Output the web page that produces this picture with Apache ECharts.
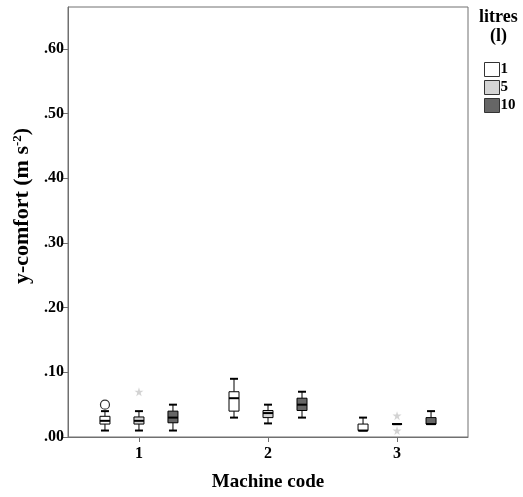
<!DOCTYPE html>
<html>
<head>
<meta charset="utf-8">
<script src="https://cdn.jsdelivr.net/npm/echarts@6/dist/echarts.min.js"></script>
<style>html,body{margin:0;padding:0;background:#fff}#c{width:523px;height:497px}</style>
</head>
<body>
<div id="c"></div>
<script>
// Machine codes (x categories)
var machines = [1, 2, 3];
// Box data per litre group: [machine, min, Q1, median, Q3, max]
var box1 = [[1, 0.01, 0.02, 0.025, 0.032, 0.04], [2, 0.03, 0.04, 0.06, 0.07, 0.09], [3, 0.01, 0.01, 0.01, 0.02, 0.03]];
var box5 = [[1, 0.01, 0.02, 0.025, 0.031, 0.04], [2, 0.021, 0.03, 0.037, 0.041, 0.05], [3, 0.02, 0.02, 0.02, 0.02, 0.02]];
var box10 = [[1, 0.01, 0.022, 0.03, 0.04, 0.05], [2, 0.03, 0.041, 0.05, 0.06, 0.07], [3, 0.02, 0.02, 0.02, 0.03, 0.04]];
// Outliers: [machine, value]
var out1Circle = [[1, 0.05]];
var out5Star = [[1, 0.07], [3, 0.033], [3, 0.01]];
// Tick values
var yTicks = [0, 0.1, 0.2, 0.3, 0.4, 0.5, 0.6];
var groupNames = ['1', '5', '10'];

var fills = ['#ffffff', '#d4d4d4', '#666666'];
var offsets = [-34, 0, 34];
var FONT = 'Liberation Serif';
var STAR = 'path://M50,0 L61,35 L98,35 L68,57 L79,91 L50,70 L21,91 L32,57 L2,35 L39,35 Z';

function boxRenderer(gi) {
  return function (params, api) {
    var x = api.coord([api.value(0), 0])[0] + offsets[gi];
    var yMin = api.coord([0, api.value(1)])[1];
    var yQ1 = api.coord([0, api.value(2)])[1];
    var yMed = api.coord([0, api.value(3)])[1];
    var yQ3 = api.coord([0, api.value(4)])[1];
    var yMax = api.coord([0, api.value(5)])[1];
    var hw = 5, cw = 4;
    var ls = {stroke: '#000', lineWidth: 1};
    var children = [
      {type: 'line', shape: {x1: x, y1: yMax, x2: x, y2: yQ3}, style: ls},
      {type: 'line', shape: {x1: x, y1: yQ1, x2: x, y2: yMin}, style: ls},
      {type: 'line', shape: {x1: x - cw, y1: yMax, x2: x + cw, y2: yMax}, style: {stroke: '#000', lineWidth: 2}},
      {type: 'line', shape: {x1: x - cw, y1: yMin, x2: x + cw, y2: yMin}, style: {stroke: '#000', lineWidth: 2}},
      {type: 'rect', shape: {x: x - hw, y: yQ3, width: hw * 2, height: Math.max(yQ1 - yQ3, 0)}, style: {fill: fills[gi], stroke: '#000', lineWidth: 1}},
      {type: 'line', shape: {x1: x - hw, y1: yMed, x2: x + hw, y2: yMed}, style: {stroke: '#000', lineWidth: 2}}
    ];
    return {type: 'group', children: children};
  };
}

var chart = echarts.init(document.getElementById('c'), null, {renderer: 'canvas'});
chart.setOption({
  animation: false,
  backgroundColor: '#fff',
  textStyle: {fontFamily: FONT},
  grid: {left: 68, top: 7, width: 400, height: 430, show: true, borderColor: '#707070', borderWidth: 1, backgroundColor: 'transparent'},
  graphic: [
    {type: 'text', left: 479, top: 8, style: {text: 'litres', font: 'bold 18px "Liberation Serif"', fill: '#000'}},
    {type: 'text', left: 490, top: 27, style: {text: '(l)', font: 'bold 18px "Liberation Serif"', fill: '#000'}},
    {type: 'text', x: 22, y: 206, rotation: Math.PI / 2,
      style: {text: 'y-comfort (m s{sup|-2})', align: 'center', verticalAlign: 'middle',
        fontFamily: FONT, fontWeight: 'bold', fontSize: 22, fill: '#000',
        rich: {sup: {fontFamily: FONT, fontWeight: 'bold', fontSize: 13, verticalAlign: 'top', fill: '#000'}}}}
  ],
  legend: {
    orient: 'vertical', left: 479, top: 57, itemWidth: 15, itemHeight: 14, itemGap: 3,
    textStyle: {fontFamily: FONT, fontWeight: 'bold', fontSize: 15, lineHeight: 14, color: '#000', padding: [0, 0, 0, -4]},
    data: [
      {name: groupNames[0], icon: 'rect', itemStyle: {color: fills[0], borderColor: '#333', borderWidth: 1}},
      {name: groupNames[1], icon: 'rect', itemStyle: {color: fills[1], borderColor: '#333', borderWidth: 1}},
      {name: groupNames[2], icon: 'rect', itemStyle: {color: fills[2], borderColor: '#333', borderWidth: 1}}
    ]
  },
  xAxis: {
    type: 'value', min: 0.45, max: 3.55,
    name: 'Machine code', nameLocation: 'middle', nameGap: 36,
    nameTextStyle: {fontFamily: FONT, fontWeight: 'bold', fontSize: 19, color: '#000'},
    axisLine: {show: true, lineStyle: {color: '#707070', width: 1}},
    axisTick: {show: true, length: 5, customValues: machines, lineStyle: {color: '#707070'}},
    axisLabel: {customValues: machines, fontFamily: FONT, fontWeight: 'bold', fontSize: 16, color: '#000', margin: 9},
    splitLine: {show: false}
  },
  yAxis: {
    type: 'value', min: 0, max: 0.665,
    axisLine: {show: true, lineStyle: {color: '#707070', width: 1}},
    axisTick: {show: true, length: 5, customValues: yTicks, lineStyle: {color: '#707070'}},
    axisLabel: {customValues: yTicks, fontFamily: FONT, fontWeight: 'bold', fontSize: 16, color: '#000', margin: 4,
      formatter: function (v) { return v.toFixed(2).replace(/^0/, ''); }},
    splitLine: {show: false}
  },
  series: [
    {name: groupNames[0], type: 'custom', renderItem: boxRenderer(0), data: box1, itemStyle: {color: fills[0]}, encode: {x: 0, y: [1, 5]}},
    {name: groupNames[1], type: 'custom', renderItem: boxRenderer(1), data: box5, itemStyle: {color: fills[1]}, encode: {x: 0, y: [1, 5]}},
    {name: groupNames[2], type: 'custom', renderItem: boxRenderer(2), data: box10, itemStyle: {color: fills[2]}, encode: {x: 0, y: [1, 5]}},
    {name: 'out1', type: 'scatter', data: out1Circle, symbol: 'circle', symbolSize: 9, symbolOffset: [offsets[0], 0],
      itemStyle: {color: '#fff', borderColor: '#000', borderWidth: 1.2}},
    {name: 'out5', type: 'scatter', data: out5Star, symbol: STAR, symbolSize: 9, symbolOffset: [offsets[1], 0],
      itemStyle: {color: '#c8c8c8'}}
  ]
});
</script>
</body>
</html>
